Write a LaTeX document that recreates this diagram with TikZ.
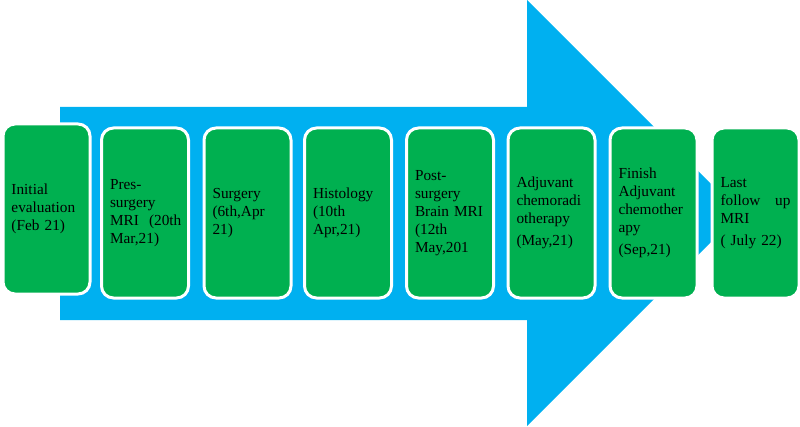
\documentclass[tikz,border=0pt]{standalone}
\usepackage{fontspec}
\setmainfont{Liberation Serif}
\usepackage{xcolor}
\usepackage{tikz}
\usetikzlibrary{positioning}

\definecolor{arrowblue}{HTML}{00B0F0}
\definecolor{boxgreen}{HTML}{00B050}

\tikzset{
  stage/.style={fill=boxgreen, draw=white, line width=3pt, rounded corners=12pt,
    minimum width=87pt, minimum height=170pt, text width=70pt, inner xsep=8.5pt,
    align=left, font=\fontsize{15.3}{18}\selectfont},
}

\begin{document}
\begin{tikzpicture}[x=1pt,y=1pt]
\useasboundingbox (0,0) rectangle (800,426);
% big arrow behind the timeline
\fill[arrowblue] (60,319) -- (527,319) -- (527,426) -- (740,213)
  -- (527,0) -- (527,106) -- (60,106) -- cycle;
% stages
\node[stage] (eval) at (46.5,217) {Initial\\evaluation\\(Feb 21)};
\node[stage] (premri) at (145,213) {Pres-\\surgery\\\mbox{MRI\ \ (20th}\\Mar,21)};
\node[stage] (surgery) at (247.5,213) {Surgery\\(6th,Apr\\21)};
\node[stage] (histo) at (348,213) {Histology\\(10th\\Apr,21)};
\node[stage] (postmri) at (450,213) {Post-\\surgery\\Brain MRI\\(12th\\May,201};
\node[stage] (chemorad) at (551.5,213) {Adjuvant\\chemoradi\\otherapy\\[4pt](May,21)};
\node[stage] (finish) at (653.5,213) {Finish\\Adjuvant\\chemother\\apy\\[4pt](Sep,21)};
\node[stage] (lastmri) at (755.5,213) {Last\\follow\hfill up\\MRI\\[4pt]( July 22)};
\end{tikzpicture}
\end{document}
